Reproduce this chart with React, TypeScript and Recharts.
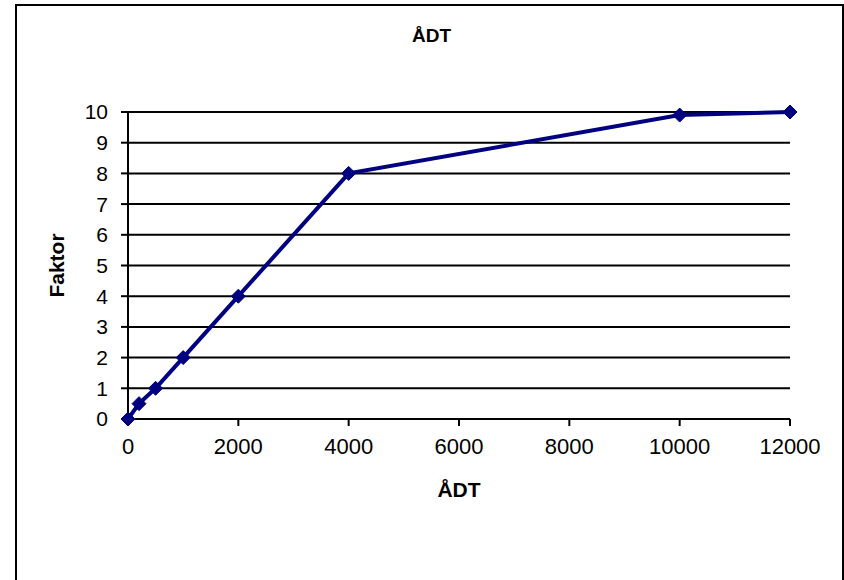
import { LineChart, Line, XAxis, YAxis, CartesianGrid, Label } from 'recharts'

const adt = [0, 200, 500, 1000, 2000, 4000, 10000, 12000]
const faktor = [0, 0.5, 1, 2, 4, 8, 9.9, 10]
const xTicks = [0, 2000, 4000, 6000, 8000, 10000, 12000]
const yTicks = [0, 1, 2, 3, 4, 5, 6, 7, 8, 9, 10]

const data = adt.map((x, i) => ({ adt: x, faktor: faktor[i] }))

const font = 'Liberation Sans, Arial, sans-serif'

function Diamond(props: any) {
  const { cx, cy } = props
  if (cx == null || cy == null) return null
  const r = 7
  return (
    <path
      d={`M${cx},${cy - r}L${cx + r},${cy}L${cx},${cy + r}L${cx - r},${cy}Z`}
      fill="#000080"
      stroke="#000080"
    />
  )
}

export default function App() {
  return (
    <div style={{ position: 'absolute', left: 0, top: 0, width: 844, height: 580, overflow: 'hidden', background: '#fff', fontFamily: font }}>
      <div
        style={{
          position: 'absolute',
          left: 15,
          top: 4,
          width: 825,
          height: 620,
          border: '2px solid #000',
        }}
      />
      <div
        style={{
          position: 'absolute',
          left: 15,
          width: 833,
          top: 25,
          textAlign: 'center',
          fontWeight: 'bold',
          fontSize: 19,
        }}
      >
        ÅDT
      </div>
      <div style={{ position: 'absolute', left: 0, top: 0 }}>
        <LineChart
          width={844}
          height={580}
          data={data}
          margin={{ top: 112, right: 54, bottom: 0, left: 0 }}
        >
          <CartesianGrid horizontal vertical={false} stroke="#000" strokeWidth={2} />
          <XAxis
            type="number"
            dataKey="adt"
            domain={[0, 12000]}
            ticks={xTicks}
            interval={0}
            tickSize={7}
            tickMargin={12}
            height={161}
            stroke="#000"
            strokeWidth={2}
            tick={{ fill: '#000', fontSize: 22, fontFamily: font }}
          >
            <Label
              value="ÅDT"
              position="insideTop"
              offset={63}
              style={{ fill: '#000', fontWeight: 'bold', fontSize: 21, fontFamily: font }}
            />
          </XAxis>
          <YAxis
            type="number"
            domain={[0, 10]}
            ticks={yTicks}
            interval={0}
            width={128}
            tickSize={7}
            tickMargin={13}
            stroke="#000"
            strokeWidth={2}
            tick={{ fill: '#000', fontSize: 21, fontFamily: font }}
          >
            <Label
              value="Faktor"
              angle={-90}
              position="insideLeft"
              offset={57}
              style={{ fill: '#000', fontWeight: 'bold', fontSize: 21, fontFamily: font, textAnchor: 'middle' }}
            />
          </YAxis>
          <YAxis
            yAxisId="right"
            orientation="right"
            type="number"
            domain={[0, 10]}
            width={0}
            tick={false}
            tickLine={false}
            stroke="#000"
            strokeWidth={2}
          />
          <Line
            type="linear"
            dataKey="faktor"
            stroke="#000080"
            strokeWidth={4}
            dot={<Diamond />}
            activeDot={false}
            isAnimationActive={false}
          />
        </LineChart>
      </div>
    </div>
  )
}
